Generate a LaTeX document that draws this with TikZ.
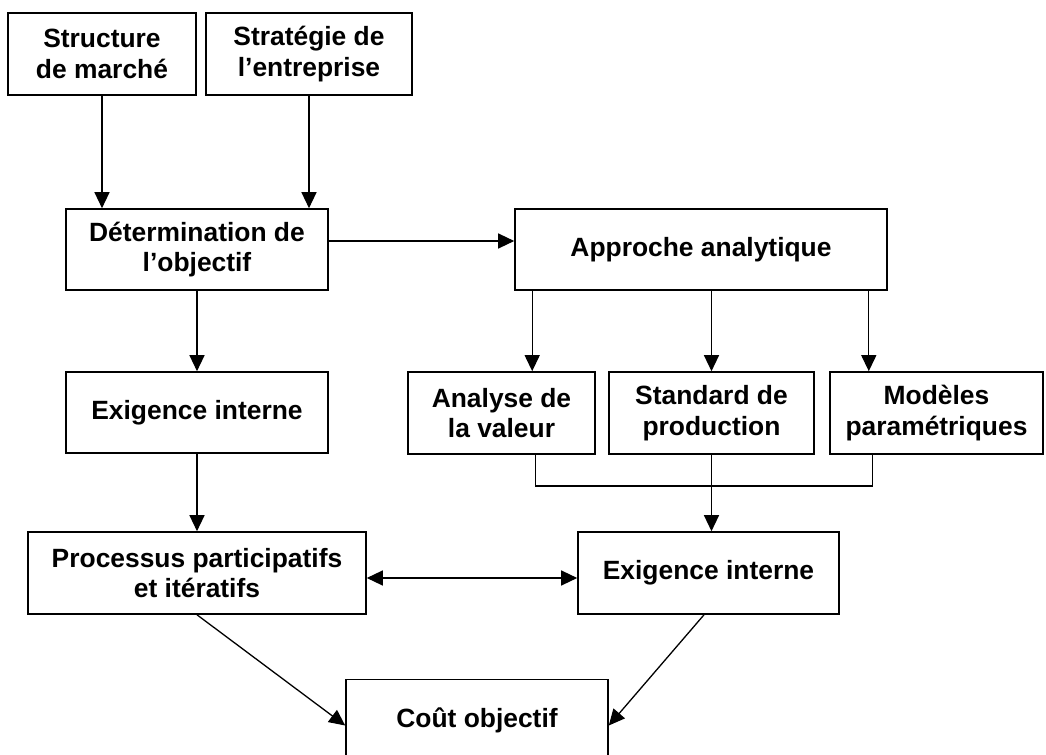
\documentclass[tikz,border=0pt]{standalone}
\usepackage{fontspec}
\setmainfont{Liberation Sans}
\usetikzlibrary{arrows.meta,calc}

\begin{document}
\begin{tikzpicture}[x=0.5pt,y=-0.5pt,
  box/.style={draw,line width=0.8pt,inner sep=0pt,align=center,
    font=\bfseries\fontsize{13.2}{15.3}\selectfont},
  sz/.style 2 args={minimum width=#1pt,minimum height=#2pt},
  link/.style={line width=0.65pt},
  tip/.style={Triangle[length=8pt,width=7.5pt]},
  arr/.style={link,-{Triangle[length=8pt,width=7.5pt]}},
  arrboth/.style={link,{Triangle[length=8pt,width=7.5pt]}-{Triangle[length=8pt,width=7.5pt]}}]

\useasboundingbox (0,0) rectangle (1046,755);
\fill[white] (0,0) rectangle (1046,755);
\clip (0,0) rectangle (1046,755);

% boxes
\node[box,sz={94}{41}]    (s1)   at (102,54)    {Structure\\de marché};
\node[box,sz={103}{41}]   (s2)   at (309,54)    {Stratégie de\\l’entreprise};
\node[box,sz={131}{40.5}] (det)  at (197,249.5) {Détermination de\\l’objectif};
\node[box,sz={186}{40.5}] (app)  at (701,249.5) {Approche analytique};
\node[box,sz={131}{40.5}] (exl)  at (197,412.5) {Exigence interne};
\node[box,sz={93.5}{41}]  (ana)  at (501.5,413) {Analyse de\\la valeur};
\node[box,sz={102.5}{41}] (std)  at (711.5,413) {Standard de\\production};
\node[box,sz={106.5}{41}] (mod)  at (936.5,413) {Modèles\\paramétriques};
\node[box,sz={169}{41}]   (proc) at (197,573)   {Processus participatifs\\et itératifs};
\node[box,sz={130.5}{41}] (exr)  at (708.5,573) {Exigence interne};
\node[box,sz={131}{41}]   (cout) at (477,720.5) {Coût objectif};

% inputs of the objective
\draw[arr] (s1.south) -- (s1.south |- det.north);
\draw[arr] (s2.south) -- (s2.south |- det.north);

% objective to analytic approach
\coordinate (dj) at ($(det.east)+(0,-8.5)$);
\draw[arr] (dj) -- (dj -| app.west);
\draw[arr] (det) -- (exl);

% analytic approach to its three methods
\coordinate (a1) at ($(app.south west)+(18,0)$);
\coordinate (a3) at ($(app.south east)+(-19,0)$);
\draw[arr] (a1) -- (a1 |- ana.north);
\draw[arr] (std.north |- app.south) -- (std.north);
\draw[arr] (a3) -- (a3 |- mod.north);

% methods joined into the internal requirement
\coordinate (b1) at ($(ana.south east)+(-60,0)$);
\coordinate (b3) at ($(mod.south west)+(43,0)$);
\coordinate (bj) at (0,486);
\draw[link] (b1) -- (b1 |- bj) -- (b3 |- bj) -- (b3);
\draw[arr] (std.south) -- (std.south |- exr.north);

% lower part
\draw[arr] (exl) -- (proc);
\coordinate (pj) at ($(proc.east)+(0,5)$);
\draw[arrboth] (pj) -- (pj -| exr.west);
\coordinate (cw) at ($(cout.west)+(0,5)$);
\coordinate (ce) at ($(cout.east)+(0,5)$);
\coordinate (xs) at ($(exr.south)+(-4.5,0)$);
\draw[arr] (proc.south) -- (cw);
\draw[arr] (xs) -- (ce);
\end{tikzpicture}
\end{document}
